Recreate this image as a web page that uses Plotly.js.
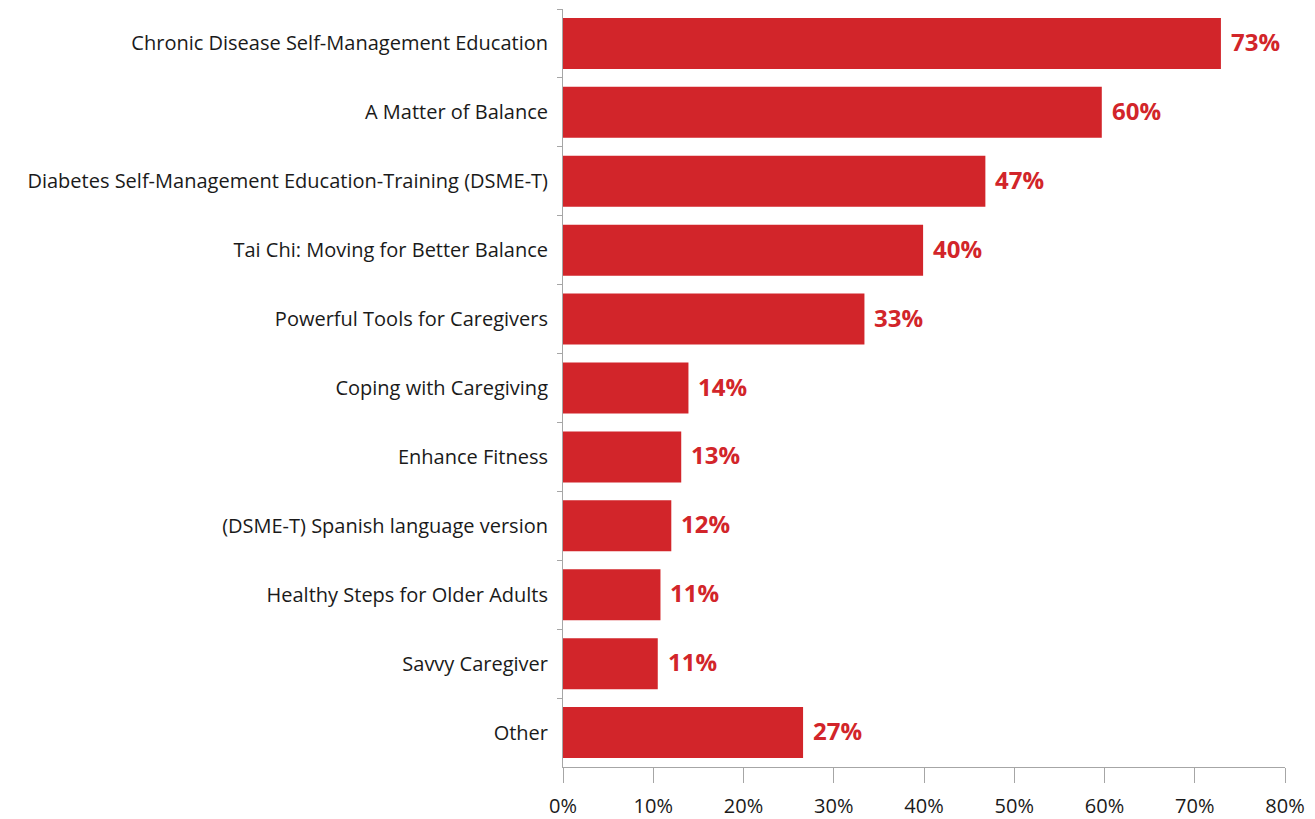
<!DOCTYPE html>
<html>
<head>
<meta charset="utf-8">
<script src="https://cdn.plot.ly/plotly-3.0.1.min.js"></script>
<style>html,body{margin:0;padding:0;background:#fff;}#chart{width:1315px;height:819px;}</style>
</head>
<body>
<div id="chart"></div>
<script>
var categories = [
  "Chronic Disease Self-Management Education",
  "A Matter of Balance",
  "Diabetes Self-Management Education-Training (DSME-T)",
  "Tai Chi: Moving for Better Balance",
  "Powerful Tools for Caregivers",
  "Coping with Caregiving",
  "Enhance Fitness",
  "(DSME-T) Spanish language version",
  "Healthy Steps for Older Adults",
  "Savvy Caregiver",
  "Other"
];
var values = [72.9, 59.7, 46.8, 39.9, 33.4, 13.9, 13.1, 12.0, 10.8, 10.5, 26.6];
var valueLabels = ["73%", "60%", "47%", "40%", "33%", "14%", "13%", "12%", "11%", "11%", "27%"];
var tickVals = [0, 10, 20, 30, 40, 50, 60, 70, 80];
var tickText = ["0%", "10%", "20%", "30%", "40%", "50%", "60%", "70%", "80%"];

var red = "#D2252A";
var trace = {
  type: "bar",
  orientation: "h",
  x: values,
  y: categories,
  marker: {color: red, line: {width: 0}},
  hoverinfo: "skip"
};

var annotations = categories.map(function(c, i) {
  return {
    x: values[i], y: c, xref: "x", yref: "y",
    text: valueLabels[i], showarrow: false,
    xanchor: "left", yanchor: "middle", xshift: 8, yshift: 2,
    font: {family: "Open Sans, sans-serif", size: 24, color: red, weight: "bold"}
  };
});

var layout = {
  width: 1315, height: 819,
  margin: {l: 563, r: 30, t: 9, b: 52},
  paper_bgcolor: "#fff", plot_bgcolor: "#fff",
  showlegend: false,
  bargap: 0.26,
  font: {family: "Open Sans, sans-serif", color: "#1a1a1a"},
  xaxis: {
    range: [0, 80],
    tickvals: tickVals, ticktext: tickText,
    showgrid: false, zeroline: false,
    showline: true, linecolor: "#A6A6A6", linewidth: 1,
    ticks: "outside", ticklen: 15, tickcolor: "#A6A6A6", tickwidth: 1,
    ticklabelstandoff: 6,
    tickfont: {size: 20, color: "#1a1a1a"},
    fixedrange: true
  },
  yaxis: {
    type: "category",
    categoryorder: "array", categoryarray: categories,
    autorange: "reversed",
    tickson: "boundaries",
    showgrid: false, zeroline: false,
    showline: true, linecolor: "#A6A6A6", linewidth: 1,
    ticks: "outside", ticklen: 5, tickcolor: "#A6A6A6", tickwidth: 1,
    ticklabelstandoff: 10,
    tickfont: {size: 20, color: "#1a1a1a"},
    fixedrange: true
  },
  annotations: annotations
};

Plotly.newPlot("chart", [trace], layout, {displayModeBar: false, staticPlot: true});
</script>
</body>
</html>
